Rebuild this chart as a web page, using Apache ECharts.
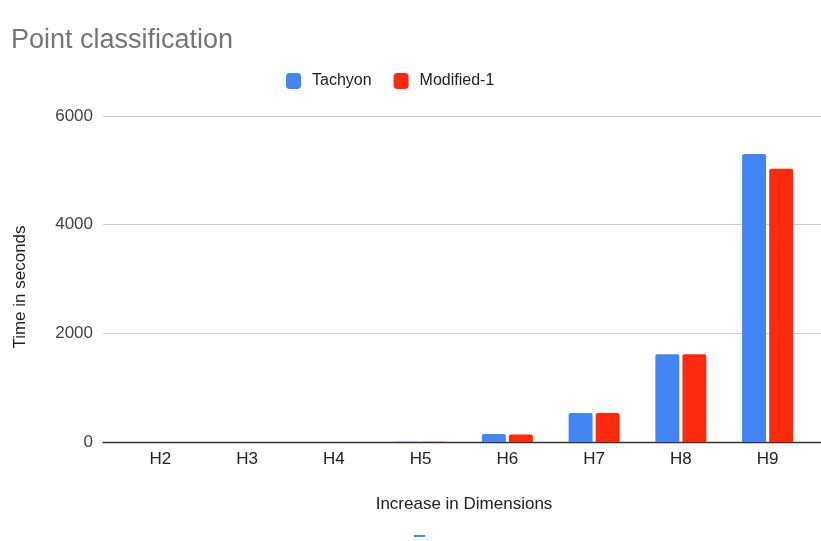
<!DOCTYPE html>
<html>
<head>
<meta charset="utf-8">
<script src="https://cdn.jsdelivr.net/npm/echarts@6/dist/echarts.min.js"></script>
<style>
  html, body { margin: 0; padding: 0; background: #fff; }
  #chart { width: 821px; height: 541px; }
</style>
</head>
<body>
<div id="chart"></div>
<script>
// Run times per dimension level
const categories = ['H2', 'H3', 'H4', 'H5', 'H6', 'H7', 'H8', 'H9'];
const tachyon = [0.2, 0.6, 2, 6, 145, 535, 1615, 5300];
const modified1 = [0.2, 0.6, 2, 6, 140, 535, 1615, 5030];
const yTicks = [0, 2000, 4000, 6000];

const FONT = '"Liberation Sans", Arial, sans-serif';
const yMin = yTicks[0];
const yMax = yTicks[yTicks.length - 1];
const yStep = yTicks[1] - yTicks[0];

const chart = echarts.init(document.getElementById('chart'), null, { renderer: 'canvas' });

chart.setOption({
  animation: false,
  backgroundColor: '#ffffff',
  textStyle: { fontFamily: FONT },
  title: {
    text: 'Point classification',
    left: 11,
    top: 27,
    padding: 0,
    textStyle: { fontFamily: FONT, fontSize: 27, fontWeight: 'normal', color: '#757575' }
  },
  legend: {
    data: ['Tachyon', 'Modified-1'],
    left: 286,
    top: 73,
    padding: 0,
    itemWidth: 15,
    itemHeight: 16,
    itemGap: 22,
    icon: 'roundRect',
    textStyle: { fontFamily: FONT, fontSize: 16, color: '#222222', padding: [0, 0, 0, 6] }
  },
  grid: [
    // wide grid: gridlines, y labels and baseline
    { left: 103, right: 0, top: 116, bottom: 99, containLabel: false },
    // inner grid: the categories and bars
    { left: 117, right: 10, top: 116, bottom: 99, containLabel: false }
  ],
  xAxis: [
    {
      gridIndex: 0,
      type: 'value',
      min: 0, max: 1,
      axisLine: { show: true, onZero: false, lineStyle: { color: '#333333', width: 1.3 } },
      axisTick: { show: false },
      axisLabel: { show: false },
      splitLine: { show: false }
    },
    {
      gridIndex: 1,
      type: 'category',
      data: categories,
      axisLine: { show: false },
      axisTick: { show: false },
      axisLabel: { fontFamily: FONT, fontSize: 17, color: '#222222', margin: 9 },
      name: 'Increase in Dimensions',
      nameLocation: 'middle',
      nameGap: 54,
      nameTextStyle: { fontFamily: FONT, fontSize: 17, color: '#222222' }
    }
  ],
  yAxis: [
    {
      gridIndex: 0,
      type: 'value',
      min: yMin, max: yMax, interval: yStep,
      axisLine: { show: false },
      axisTick: { show: false },
      axisLabel: { fontFamily: FONT, fontSize: 17, color: '#444444', margin: 10, formatter: v => String(v) },
      splitLine: { show: true, lineStyle: { color: '#cccccc', width: 1 } },
      name: 'Time in seconds',
      nameLocation: 'middle',
      nameGap: 74,
      nameRotate: 90,
      nameTextStyle: { fontFamily: FONT, fontSize: 17, color: '#222222', padding: [0, 16, 0, 0] }
    },
    {
      gridIndex: 1,
      type: 'value',
      min: yMin, max: yMax, interval: yStep,
      show: false,
      splitLine: { show: false }
    }
  ],
  series: [
    {
      name: 'Tachyon',
      type: 'bar',
      xAxisIndex: 1,
      yAxisIndex: 1,
      data: tachyon,
      barWidth: '27.6%',
      barGap: '13%',
      itemStyle: { color: '#4285f4', borderRadius: [2, 2, 0, 0] }
    },
    {
      name: 'Modified-1',
      type: 'bar',
      xAxisIndex: 1,
      yAxisIndex: 1,
      data: modified1,
      barWidth: '27.6%',
      barGap: '13%',
      itemStyle: { color: '#ff2a0e', borderRadius: [2, 2, 0, 0] }
    }
  ],
  graphic: [
    { type: 'rect', left: 414, top: 535, shape: { width: 11, height: 2 }, style: { fill: '#4285f4' } }
  ]
});
</script>
</body>
</html>
